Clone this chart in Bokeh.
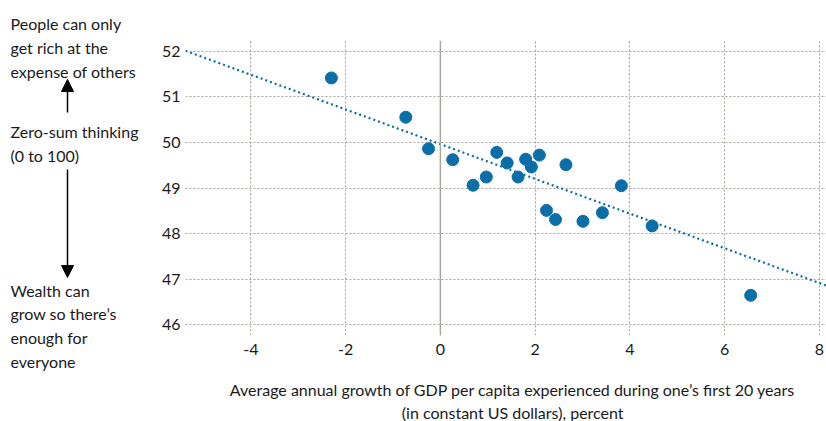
from bokeh.plotting import figure
from bokeh.layouts import row, column
from bokeh.models import Range1d, Span, Label, Arrow, NormalHead, FixedTicker
from bokeh.embed import file_html
from bokeh.resources import INLINE

# ---- data ----
growth = [-2.30, -0.73, -0.25, 0.26, 0.69, 0.97, 1.19, 1.41, 1.64, 1.80,
          1.92, 2.09, 2.24, 2.43, 2.65, 3.01, 3.42, 3.82, 4.47, 6.55]
zero_sum = [51.41, 50.55, 49.86, 49.62, 49.06, 49.24, 49.78, 49.55, 49.24, 49.63,
            49.46, 49.72, 48.51, 48.31, 49.51, 48.27, 48.46, 49.05, 48.17, 46.65]
trend_intercept = 49.96
trend_slope = -0.38
trend_x = [-5.38, 8.15]
x_ticks = [-4, -2, 0, 2, 4, 6, 8]
y_ticks = [46, 47, 48, 49, 50, 51, 52]

top_note = ["People can only", "get rich at the", "expense of others"]
mid_note = ["Zero-sum thinking", "(0 to 100)"]
bottom_note = ["Wealth can", "grow so there\u2019s", "enough for", "everyone"]
x_title = ["Average annual growth of GDP per capita experienced during one\u2019s first 20 years",
           "(in constant US dollars), percent"]

FONT = "Lato"
BLUE = "#0a6ea8"
GRID = "#aca39b"
TEXT = "#1a1a1a"

# ---- main scatter ----
p = figure(width=668, height=365, output_backend="svg", toolbar_location=None,
           x_range=Range1d(trend_x[0], trend_x[1]), y_range=Range1d(45.77, 52.23),
           min_border_left=25, min_border_right=0, min_border_top=40, min_border_bottom=30)
p.outline_line_color = None

for ax in (p.xaxis[0], p.yaxis[0]):
    ax.axis_line_color = None
    ax.major_tick_line_color = None
    ax.minor_tick_line_color = None
    ax.major_tick_in = 0
    ax.major_tick_out = 0
    ax.minor_tick_out = 0
    ax.major_label_text_font = FONT
    ax.major_label_text_font_size = "16px"
    ax.major_label_text_color = TEXT
p.xaxis.ticker = FixedTicker(ticks=x_ticks)
p.yaxis.ticker = FixedTicker(ticks=y_ticks)
p.xaxis.major_label_overrides = {t: str(t) for t in x_ticks}
p.yaxis.major_label_overrides = {t: str(t) for t in y_ticks}
p.xaxis.major_label_standoff = 8
p.yaxis.major_label_standoff = 5

for g in (p.xgrid[0], p.ygrid[0]):
    g.grid_line_color = GRID
    g.grid_line_dash = "2 2"
    g.grid_line_width = 1
p.xgrid.ticker = FixedTicker(ticks=x_ticks)
p.ygrid.ticker = FixedTicker(ticks=y_ticks)

p.add_layout(Span(location=0, dimension="height", line_color="#a9a5a1", line_width=1.5))

trend_y = [trend_intercept + trend_slope * x for x in trend_x]
p.line(trend_x, trend_y, line_color=BLUE, line_width=2.2, line_dash="2 3")
p.scatter(growth, zero_sum, size=12, fill_color=BLUE, line_color=BLUE)

# ---- left note panel (pixel-like coordinates, y downwards) ----
left = figure(width=158, height=421, output_backend="svg", toolbar_location=None,
              x_range=Range1d(0, 158), y_range=Range1d(421, 0),
              x_axis_type=None, y_axis_type=None, min_border=0)
left.outline_line_color = None

def add_lines(fig, lines, ys, x, align="left"):
    for t, y in zip(lines, ys):
        fig.add_layout(Label(x=x, y=y, text=t, text_font=FONT, text_font_size="16px",
                             text_color=TEXT, text_align=align, text_baseline="middle"))

add_lines(left, top_note, [23, 47, 71], 10)
add_lines(left, mid_note, [131, 155], 10)
add_lines(left, bottom_note, [290, 313, 337, 361], 10)

left.add_layout(Arrow(end=NormalHead(size=12, fill_color="black", line_color="black"),
                      x_start=67, y_start=112, x_end=67, y_end=79,
                      line_width=1.5, line_color="black"))
left.add_layout(Arrow(end=NormalHead(size=12, fill_color="black", line_color="black"),
                      x_start=67, y_start=169, x_end=67, y_end=277,
                      line_width=1.5, line_color="black"))

# ---- x title panel ----
bottom = figure(width=668, height=56, output_backend="svg", toolbar_location=None,
                x_range=Range1d(0, 668), y_range=Range1d(56, 0),
                x_axis_type=None, y_axis_type=None, min_border=0)
bottom.outline_line_color = None
add_lines(bottom, x_title, [24, 47], 341, align="center")

layout = row(left, column(p, bottom, spacing=0), spacing=0)
open("out.html", "w").write(file_html(layout, INLINE))
